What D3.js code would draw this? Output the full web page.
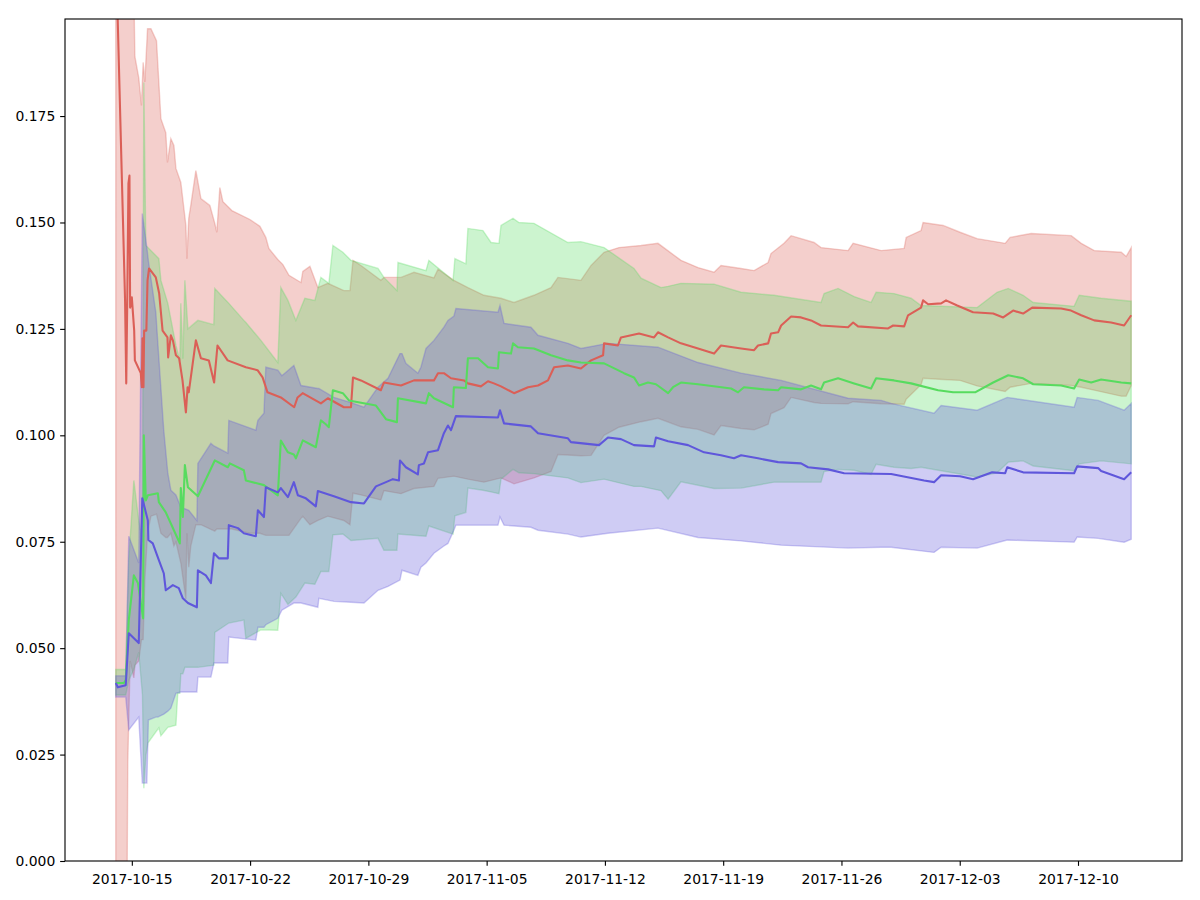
<!DOCTYPE html>
<html>
<head>
<meta charset="utf-8">
<script src="https://cdn.jsdelivr.net/npm/d3@7"></script>
<style>
  body { margin: 0; background: #fff; }
  text { font-family: "DejaVu Sans", sans-serif; }
</style>
</head>
<body>
<div id="chart"></div>
<script>
// 1: DATA (days counted from 2017-10-15 00:00 UTC)
const startDate = Date.UTC(2017, 9, 15);
const dayMs = 864e5;

const xTickLabels = ["2017-10-15", "2017-10-22", "2017-10-29", "2017-11-05", "2017-11-12",
                     "2017-11-19", "2017-11-26", "2017-12-03", "2017-12-10"];
const yTickValues = [0, 0.025, 0.05, 0.075, 0.1, 0.125, 0.15, 0.175];
const yMax = 0.1978;

// red variant
const redMeanDays = [-0.95, -0.40, -0.33, -0.27, -0.20, -0.14, -0.10, 0.00, 0.14, 0.18, 0.53, 0.59, 0.63, 0.69, 0.73, 0.86, 0.93, 1.02,
  1.42, 1.62, 1.82, 2.11, 2.15, 2.31, 2.43, 2.61, 2.80, 3.00, 3.20, 3.30, 3.37, 3.79, 4.09, 4.56, 4.87, 5.07, 5.67, 6.75, 7.44, 7.74,
  8.03, 8.82, 9.61, 9.81, 10.11, 11.19, 11.60, 12.55, 12.97, 13.09, 13.56, 14.74, 14.92, 15.93, 16.70, 17.88, 18.12, 18.47, 18.89,
  19.66, 19.89, 20.66, 21.08, 21.43, 21.85, 22.62, 23.45, 24.04, 24.63, 24.99, 25.81, 26.58, 27.18, 27.89, 27.95, 28.77, 28.95, 30.02,
  30.91, 31.14, 31.74, 32.50, 33.51, 34.46, 34.87, 36.06, 36.83, 37.06, 37.66, 37.83, 38.25, 38.43, 39.02, 39.61, 40.20, 40.79, 42.39,
  42.69, 42.98, 44.76, 45.06, 45.71, 45.94, 46.71, 46.83, 47.13, 47.90, 48.19, 48.85, 49.79, 50.98, 51.57, 52.16, 52.75, 53.29, 55.00,
  55.59, 56.19, 56.96, 57.96, 58.73, 59.15];
const redMean = [0.215, 0.1317, 0.1122, 0.1317, 0.1592, 0.1610, 0.1300, 0.1324, 0.1246, 0.1176, 0.1146, 0.1113, 0.1228, 0.1113, 0.1246,
  0.1246, 0.1364, 0.1392, 0.1371, 0.1333, 0.1246, 0.1230, 0.1183, 0.1235, 0.1223, 0.1188, 0.1181, 0.1129, 0.1054, 0.1113, 0.1101,
  0.1223, 0.1181, 0.1176, 0.1124, 0.1211, 0.1176, 0.1160, 0.1153, 0.1136, 0.1101, 0.1089, 0.1066, 0.1089, 0.1099, 0.1075, 0.1087,
  0.1066, 0.1066, 0.1136, 0.1129, 0.1106, 0.1124, 0.1117, 0.1129, 0.1129, 0.1146, 0.1146, 0.1134, 0.1129, 0.1122, 0.1115, 0.1127,
  0.1122, 0.1115, 0.1099, 0.1113, 0.1117, 0.1129, 0.1160, 0.1164, 0.1157, 0.1176, 0.1188, 0.1216, 0.1211, 0.1230, 0.1239, 0.1230,
  0.1242, 0.1230, 0.1216, 0.1204, 0.1192, 0.1211, 0.1204, 0.1200, 0.1211, 0.1216, 0.1239, 0.1242, 0.1258, 0.1279, 0.1277, 0.1270,
  0.1258, 0.1254, 0.1265, 0.1256, 0.1251, 0.1258, 0.1256, 0.1282, 0.1300, 0.1317, 0.1308, 0.1310, 0.1317, 0.1305, 0.1289, 0.1286,
  0.1277, 0.1293, 0.1286, 0.1300, 0.1298, 0.1293, 0.1282, 0.1270, 0.1265, 0.1258, 0.1282];
const redBandDays = [-0.95, -0.30, -0.24, -0.10, 0.12, 0.18, 0.41, 0.57, 0.67, 0.77, 0.93, 1.13, 1.46, 1.72, 2.01, 2.11, 2.31, 2.49,
  2.61, 2.90, 3.20, 3.26, 3.37, 3.49, 3.79, 4.09, 4.62, 4.91, 5.03, 5.21, 5.39, 5.92, 6.99, 7.58, 7.93, 8.11, 8.64, 8.94, 9.30, 10.01,
  10.12, 10.54, 11.01, 11.60, 12.55, 12.91, 13.09, 13.56, 14.74, 14.92, 15.93, 16.70, 17.88, 18.12, 19.06, 19.89, 20.84, 21.85, 22.62,
  23.80, 24.81, 25.22, 26.58, 27.18, 27.95, 28.83, 30.14, 31.14, 32.50, 33.51, 34.46, 34.87, 36.06, 36.83, 37.66, 37.83, 38.60, 39.02,
  40.38, 40.79, 42.39, 42.69, 44.35, 45.71, 45.83, 46.71, 46.83, 48.02, 49.02, 50.03, 51.69, 51.98, 53.23, 55.60, 56.19, 56.96, 58.56,
  58.85, 59.15];
const redHi = [0.30, 0.30, 0.30, 0.215, 0.205, 0.189, 0.184, 0.1775, 0.1876, 0.183, 0.1955, 0.1955, 0.1927, 0.1744, 0.1711, 0.1641,
  0.1697, 0.1681, 0.1627, 0.1594, 0.1493, 0.1415, 0.151, 0.1540, 0.1622, 0.1556, 0.1540, 0.1498, 0.1477, 0.1582, 0.1549, 0.1528,
  0.1507, 0.1491, 0.1465, 0.1439, 0.1413, 0.1401, 0.1376, 0.1359, 0.1385, 0.1397, 0.1347, 0.1357, 0.1340, 0.1340, 0.1411, 0.1399,
  0.1364, 0.1371, 0.1371, 0.1383, 0.1370, 0.1390, 0.1364, 0.1347, 0.1329, 0.1322, 0.1312, 0.1329, 0.1347, 0.1371, 0.1364, 0.1399,
  0.1430, 0.1441, 0.1446, 0.1451, 0.1411, 0.1394, 0.1383, 0.1399, 0.1392, 0.1387, 0.1406, 0.1427, 0.1451, 0.1469, 0.1453, 0.1441,
  0.1434, 0.1451, 0.1434, 0.1439, 0.1465, 0.1481, 0.1500, 0.1493, 0.1477, 0.1462, 0.1451, 0.1465, 0.1474, 0.1469, 0.1451, 0.1434,
  0.1430, 0.1420, 0.1441];
const redLo = [-0.02, -0.02, 0.023, 0.047, 0.043, 0.046, 0.047, 0.052, 0.052, 0.066, 0.077, 0.081, 0.0815, 0.077, 0.076, 0.076, 0.077,
  0.074, 0.075, 0.070, 0.0615, 0.077, 0.069, 0.074, 0.079, 0.079, 0.078, 0.0775, 0.078, 0.078, 0.078, 0.078, 0.077, 0.077, 0.0765,
  0.0765, 0.0765, 0.0765, 0.0765, 0.0805, 0.081, 0.079, 0.080, 0.081, 0.080, 0.079, 0.0864, 0.086, 0.0848, 0.0870, 0.0863, 0.0875,
  0.0880, 0.0899, 0.0904, 0.0897, 0.0890, 0.0900, 0.0886, 0.0900, 0.0915, 0.0955, 0.0952, 0.0953, 0.1000, 0.1019, 0.1032, 0.1040,
  0.1020, 0.1014, 0.1001, 0.1023, 0.1016, 0.1013, 0.1026, 0.1051, 0.1065, 0.1089, 0.1077, 0.1075, 0.1074, 0.1079, 0.1074, 0.1073,
  0.1085, 0.1119, 0.1134, 0.1131, 0.1129, 0.1116, 0.1103, 0.1113, 0.1122, 0.1117, 0.1113, 0.1106, 0.1092, 0.1092, 0.1117];

// green variant
const greenMeanDays = [-0.95, -0.47, -0.36, -0.18, 0.12, 0.36, 0.67, 0.71, 0.83, 0.95, 1.54, 1.60, 2.01, 2.49, 2.84, 2.90, 3.02, 3.14,
  3.32, 3.91, 4.91, 5.68, 5.80, 6.63, 6.75, 7.82, 8.64, 8.82, 9.24, 9.59, 9.71, 10.12, 10.89, 11.19, 11.48, 11.66, 11.90, 12.49, 12.85,
  14.45, 15.04, 15.69, 15.75, 17.41, 17.58, 17.88, 19.01, 19.06, 19.77, 19.89, 20.49, 21.08, 21.67, 21.73, 22.44, 22.56, 22.85, 23.80,
  24.81, 25.81, 26.58, 27.95, 29.13, 29.72, 30.02, 30.55, 31.02, 31.74, 32.03, 32.50, 33.51, 35.47, 35.88, 36.23, 37.42, 38.25, 38.43,
  39.61, 40.20, 40.79, 40.97, 41.80, 42.75, 43.75, 44.05, 45.11, 46.12, 47.72, 48.61, 49.91, 50.98, 51.87, 52.75, 53.35, 55.00, 55.77,
  56.07, 56.78, 57.37, 58.56, 59.15];
const greenMean = [0.0418, 0.0418, 0.0425, 0.0566, 0.0671, 0.0653, 0.0570, 0.1000, 0.0847, 0.0859, 0.0864, 0.0843, 0.0819, 0.0777,
  0.0746, 0.0876, 0.0808, 0.0930, 0.0878, 0.0857, 0.0941, 0.0925, 0.0934, 0.0918, 0.0894, 0.0883, 0.0859, 0.0988, 0.0960, 0.0955,
  0.0946, 0.0988, 0.0972, 0.1035, 0.1026, 0.1019, 0.1106, 0.1099, 0.1082, 0.1070, 0.1038, 0.1031, 0.1087, 0.1075, 0.1099, 0.1087,
  0.1066, 0.1113, 0.1111, 0.1181, 0.1181, 0.1160, 0.1157, 0.1195, 0.1192, 0.1216, 0.1207, 0.1204, 0.1188, 0.1176, 0.1171, 0.1169,
  0.1146, 0.1136, 0.1117, 0.1124, 0.1120, 0.1099, 0.1113, 0.1124, 0.1120, 0.1110, 0.1101, 0.1113, 0.1108, 0.1106, 0.1113, 0.1108,
  0.1117, 0.1108, 0.1124, 0.1134, 0.1122, 0.1110, 0.1134, 0.1129, 0.1122, 0.1106, 0.1101, 0.1101, 0.1124, 0.1141, 0.1134, 0.1120,
  0.1117, 0.1110, 0.1131, 0.1124, 0.1131, 0.1124, 0.1122];
const greenBandDays = [-0.95, -0.36, -0.18, 0.12, 0.41, 0.63, 0.71, 0.83, 0.95, 1.60, 1.72, 2.13, 2.61, 2.72, 2.84, 2.90, 3.02, 3.14,
  3.32, 3.91, 4.85, 4.91, 5.74, 6.63, 6.75, 7.64, 8.64, 8.82, 9.24, 9.71, 10.24, 10.83, 11.19, 11.66, 11.90, 12.49, 12.97, 14.57,
  14.92, 15.69, 15.75, 17.41, 17.58, 19.01, 19.12, 19.77, 19.89, 20.78, 21.26, 21.73, 21.85, 22.56, 22.91, 23.80, 25.81, 26.58, 27.95,
  29.72, 30.14, 31.32, 31.74, 32.50, 34.46, 36.06, 38.01, 40.79, 40.97, 41.80, 42.75, 43.75, 44.05, 45.11, 46.12, 46.71, 50.03, 51.21,
  51.87, 52.75, 53.35, 55.77, 56.07, 57.37, 59.15];
const greenHi = [0.0450, 0.0450, 0.0707, 0.0894, 0.0800, 0.0750, 0.1829, 0.1446, 0.1441, 0.1415, 0.1364, 0.1310, 0.1211, 0.1195,
  0.1175, 0.1310, 0.1180, 0.1364, 0.1250, 0.1270, 0.1260, 0.1345, 0.1310, 0.1270, 0.1265, 0.1223, 0.1171, 0.1347, 0.1317, 0.1270,
  0.1322, 0.1317, 0.1371, 0.1357, 0.1446, 0.1430, 0.1411, 0.1392, 0.1371, 0.1340, 0.1406, 0.1387, 0.1411, 0.1364, 0.1415, 0.1403,
  0.1486, 0.1481, 0.1453, 0.1451, 0.1493, 0.1510, 0.1500, 0.1498, 0.1453, 0.1455, 0.1441, 0.1392, 0.1369, 0.1347, 0.1350, 0.1357,
  0.1355, 0.1336, 0.1329, 0.1312, 0.1333, 0.1345, 0.1326, 0.1312, 0.1336, 0.1333, 0.1322, 0.1305, 0.1300, 0.1336, 0.1345, 0.1329,
  0.1312, 0.1303, 0.1329, 0.1322, 0.1315];
const greenLo = [0.0390, 0.0390, 0.0425, 0.0450, 0.0490, 0.0390, 0.0171, 0.0248, 0.0277, 0.0313, 0.0294, 0.0314, 0.0319, 0.0394,
  0.0394, 0.0440, 0.0440, 0.0455, 0.0455, 0.0455, 0.0460, 0.0537, 0.0559, 0.0566, 0.0523, 0.0543, 0.0542, 0.0629, 0.0603, 0.0620,
  0.0653, 0.0650, 0.0680, 0.0680, 0.0766, 0.0768, 0.0753, 0.0758, 0.0730, 0.0730, 0.0768, 0.0763, 0.0787, 0.0768, 0.0811, 0.0819,
  0.0876, 0.0871, 0.0867, 0.0863, 0.0897, 0.0920, 0.0912, 0.0910, 0.0900, 0.0889, 0.0897, 0.0880, 0.0880, 0.0870, 0.0850, 0.0891,
  0.0875, 0.0876, 0.0890, 0.0890, 0.0915, 0.0920, 0.0918, 0.0908, 0.0932, 0.0925, 0.0922, 0.0925, 0.0902, 0.0912, 0.0937, 0.0940,
  0.0928, 0.0917, 0.0933, 0.0940, 0.0933];

// blue variant
const blueMeanDays = [-0.95, -0.83, -0.36, -0.18, 0.41, 0.62, 0.95, 0.98, 1.24, 1.60, 1.89, 2.01, 2.43, 2.78, 3.02, 3.32, 3.85, 3.91,
  4.38, 4.68, 4.86, 5.15, 5.68, 5.74, 6.28, 6.63, 7.34, 7.46, 7.82, 7.93, 8.64, 8.82, 9.24, 9.59, 9.83, 10.30, 10.89, 11.01, 11.96,
  12.97, 13.74, 14.45, 15.04, 15.45, 15.81, 15.87, 16.22, 16.93, 16.99, 17.29, 17.53, 18.12, 18.47, 18.71, 18.89, 19.18, 21.67, 21.79,
  22.03, 23.62, 24.04, 25.81, 25.99, 27.65, 28.18, 28.95, 29.72, 30.91, 31.02, 31.74, 32.92, 33.87, 34.87, 35.64, 36.06, 37.06, 38.25,
  39.61, 40.02, 41.21, 42.16, 44.94, 46.89, 47.48, 47.90, 49.02, 49.79, 50.92, 51.69, 51.81, 52.75, 55.77, 55.95, 57.19, 57.37, 58.73,
  59.15];
const blueMean = [0.0418, 0.0408, 0.0413, 0.0535, 0.0512, 0.0852, 0.0800, 0.0754, 0.0746, 0.0707, 0.0676, 0.0636, 0.0648, 0.0641,
  0.0617, 0.0606, 0.0596, 0.0683, 0.0671, 0.0653, 0.0723, 0.0711, 0.0711, 0.0789, 0.0782, 0.0770, 0.0763, 0.0824, 0.0808, 0.0878,
  0.0866, 0.0876, 0.0855, 0.0890, 0.0859, 0.0852, 0.0833, 0.0869, 0.0857, 0.0843, 0.0840, 0.0880, 0.0890, 0.0897, 0.0894, 0.0941,
  0.0925, 0.0908, 0.0930, 0.0934, 0.0960, 0.0965, 0.1005, 0.1023, 0.1012, 0.1045, 0.1042, 0.1059, 0.1028, 0.1021, 0.1005, 0.0993,
  0.0984, 0.0977, 0.0995, 0.0991, 0.0977, 0.0974, 0.0995, 0.0986, 0.0977, 0.0960, 0.0953, 0.0946, 0.0953, 0.0946, 0.0937, 0.0934,
  0.0925, 0.0920, 0.0911, 0.0909, 0.0894, 0.0890, 0.0906, 0.0904, 0.0897, 0.0913, 0.0911, 0.0925, 0.0913, 0.0911, 0.0927, 0.0923,
  0.0916, 0.0897, 0.0913];
const blueBandDays = [-0.95, -0.36, -0.18, 0.41, 0.62, 0.89, 0.98, 1.42, 1.54, 1.89, 2.13, 2.31, 2.61, 2.90, 3.37, 3.85, 3.91, 4.68,
  4.86, 5.68, 5.74, 7.34, 7.46, 7.82, 7.93, 8.64, 8.88, 9.59, 10.01, 11.01, 11.07, 11.96, 12.97, 13.74, 14.57, 15.16, 15.87, 15.99,
  16.22, 16.93, 17.11, 17.41, 17.88, 18.47, 18.71, 19.06, 19.18, 21.67, 21.79, 22.03, 23.62, 24.04, 25.81, 26.58, 28.18, 31.14, 33.51,
  36.06, 38.43, 42.39, 44.35, 44.94, 47.48, 47.90, 50.03, 51.81, 55.77, 55.95, 57.19, 58.73, 59.15];
const blueHi = [0.0435, 0.0435, 0.0763, 0.0700, 0.1521, 0.1441, 0.1410, 0.1289, 0.1216, 0.1012, 0.0911, 0.0871, 0.0860, 0.0831,
  0.0824, 0.0800, 0.0934, 0.0981, 0.0975, 0.0958, 0.1035, 0.1012, 0.1035, 0.1052, 0.1160, 0.1153, 0.1140, 0.1164, 0.1117, 0.1110,
  0.1110, 0.1089, 0.1077, 0.1066, 0.1113, 0.1134, 0.1192, 0.1192, 0.1169, 0.1146, 0.1160, 0.1204, 0.1223, 0.1254, 0.1270, 0.1280,
  0.1298, 0.1289, 0.1305, 0.1263, 0.1254, 0.1235, 0.1216, 0.1204, 0.1216, 0.1207, 0.1171, 0.1146, 0.1129, 0.1087, 0.1082, 0.1075,
  0.1052, 0.1070, 0.1059, 0.1089, 0.1066, 0.1089, 0.1082, 0.1059, 0.1075];
const blueLo = [0.0385, 0.0385, 0.0308, 0.0338, 0.0183, 0.0183, 0.0331, 0.0338, 0.0338, 0.0345, 0.0352, 0.0359, 0.0394, 0.0397,
  0.0397, 0.0397, 0.0432, 0.0432, 0.0465, 0.0465, 0.0526, 0.0519, 0.0549, 0.0549, 0.0555, 0.0570, 0.0589, 0.0606, 0.0606, 0.0596,
  0.0617, 0.0610, 0.0608, 0.0606, 0.0636, 0.0645, 0.0660, 0.0683, 0.0680, 0.0671, 0.0690, 0.0700, 0.0723, 0.0740, 0.0746, 0.0777,
  0.0789, 0.0789, 0.0808, 0.0789, 0.0784, 0.0777, 0.0768, 0.0761, 0.0770, 0.0782, 0.0760, 0.0752, 0.0742, 0.0735, 0.0737, 0.0737,
  0.0725, 0.0737, 0.0735, 0.0754, 0.0749, 0.0761, 0.0758, 0.0749, 0.0756];

const toDate = d => new Date(startDate + d * dayMs);

const series = [
  { color: "#db5f57", meanDays: redMeanDays, mean: redMean, bandDays: redBandDays, hi: redHi, lo: redLo },
  { color: "#57db5f", meanDays: greenMeanDays, mean: greenMean, bandDays: greenBandDays, hi: greenHi, lo: greenLo },
  { color: "#5f57db", meanDays: blueMeanDays, mean: blueMean, bandDays: blueBandDays, hi: blueHi, lo: blueLo }
].map(s => ({
  color: s.color,
  line: s.meanDays.map((d, i) => ({ date: toDate(d), value: s.mean[i] })),
  band: s.bandDays.map((d, i) => ({ date: toDate(d), hi: s.hi[i], lo: s.lo[i] }))
}));

// 2: SVG + SCALES
const margin = { top: 19, right: 18, bottom: 39, left: 65 };
const width = 1200 - margin.left - margin.right;
const height = 900 - margin.top - margin.bottom;
const pt = 100 / 72; // matplotlib points -> px

const svg = d3.select("#chart")
  .append("svg")
  .attr("width", width + margin.left + margin.right)
  .attr("height", height + margin.top + margin.bottom)
  .append("g")
  .attr("transform", `translate(${margin.left},${margin.top})`);

// x range = data extent plus 5% each side, like matplotlib
const allDays = [].concat(redMeanDays, redBandDays, greenMeanDays, greenBandDays, blueMeanDays, blueBandDays);
const dMin = d3.min(allDays), dMax = d3.max(allDays);
const pad = (dMax - dMin) * 0.05;

const xScale = d3.scaleUtc()
  .domain([toDate(dMin - pad), toDate(dMax + pad)])
  .range([0, width]);

const yScale = d3.scaleLinear()
  .domain([0, yMax])
  .range([height, 0]);

svg.append("clipPath").attr("id", "plot-clip")
  .append("rect").attr("width", width).attr("height", height);

const plot = svg.append("g").attr("clip-path", "url(#plot-clip)");

// 3: BANDS (below lines)
const area = d3.area()
  .x(d => xScale(d.date))
  .y0(d => yScale(d.lo))
  .y1(d => yScale(d.hi));

series.forEach(s => {
  plot.append("path")
    .datum(s.band)
    .attr("d", area)
    .attr("fill", s.color)
    .attr("fill-opacity", 0.3)
    .attr("stroke", s.color)
    .attr("stroke-opacity", 0.3)
    .attr("stroke-width", pt);
});

// 4: MEAN LINES
const line = d3.line()
  .x(d => xScale(d.date))
  .y(d => yScale(d.value));

series.forEach(s => {
  plot.append("path")
    .datum(s.line)
    .attr("d", line)
    .attr("fill", "none")
    .attr("stroke", s.color)
    .attr("stroke-width", 1.5 * pt)
    .attr("stroke-linejoin", "round");
});

// 5: AXES
const parseDay = d3.utcParse("%Y-%m-%d");
const xAxis = svg.append("g")
  .attr("transform", `translate(0,${height})`)
  .call(d3.axisBottom(xScale)
    .tickValues(xTickLabels.map(parseDay))
    .tickFormat(d3.utcFormat("%Y-%m-%d"))
    .tickSize(3.5 * pt)
    .tickPadding(3.5 * pt));

const yAxis = svg.append("g")
  .call(d3.axisLeft(yScale)
    .tickValues(yTickValues)
    .tickFormat(d3.format(".3f"))
    .tickSize(3.5 * pt)
    .tickPadding(3.5 * pt));

[xAxis, yAxis].forEach(ax => {
  ax.select(".domain").remove();
  ax.selectAll(".tick line").attr("stroke", "#000").attr("stroke-width", 0.8 * pt);
  ax.selectAll(".tick text")
    .attr("fill", "#000")
    .style("font-family", "'DejaVu Sans', sans-serif")
    .style("font-size", "13.9px");
});
xAxis.selectAll(".tick text").attr("dy", "0.92em");

// frame
svg.append("rect")
  .attr("width", width)
  .attr("height", height)
  .attr("fill", "none")
  .attr("stroke", "#000")
  .attr("stroke-width", 0.8 * pt);
</script>
</body>
</html>
